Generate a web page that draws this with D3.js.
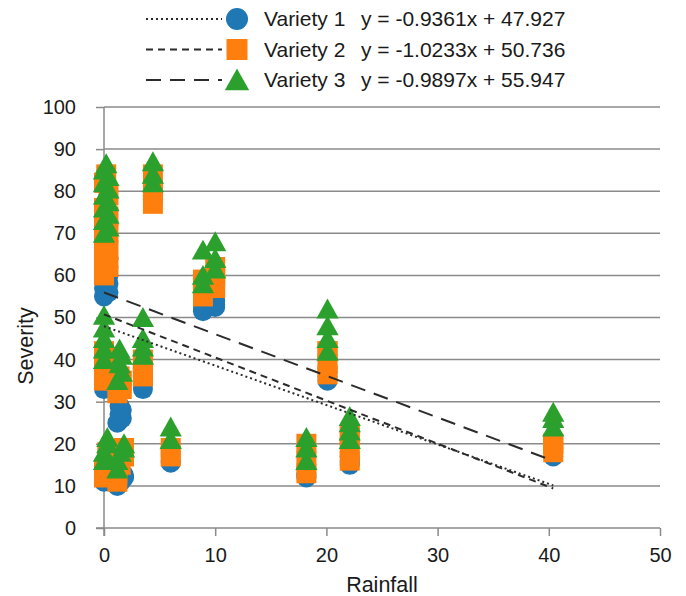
<!DOCTYPE html>
<html lang="en">
  <head>
    <meta charset="utf-8" />
    <title>Severity vs rainfall</title>
    <script src="https://cdnjs.cloudflare.com/ajax/libs/d3/7.8.5/d3.min.js"></script>
    <style type="text/css">
      body { margin: 0; background: #fff; }
      text { font-family: "Liberation Sans", Arial, sans-serif; fill: #1a1a1a; }
      .axis path, .axis line { stroke: #8a8a8a; stroke-width: 1.5; }
      .grid line { stroke: #8a8a8a; stroke-width: 1.5; }
      .trend { fill: none; stroke: #2b2b2b; stroke-width: 2; }
    </style>
  </head>

  <body>
    <script>
      const rainfall = [
        0, 0.4, 0, 0.4, 0, 0.4, 0, 0.4, 0, 0.4, 0, 0.2,
        0, 0, 0, 0, 0,
        0, 0, 0.3, 0.3, 1.2, 1.2, 1.5, 1.8, 1.8,
        1.2, 1.6, 1.4, 1.6, 1.4,
        3.5, 3.5, 3.5, 3.5,
        4.4, 4.4, 4.4,
        6, 6,
        8.9, 8.9, 8.9, 10, 10, 10,
        18.2, 18.2, 18.2,
        20.1, 20.1, 20.1, 20.1,
        22.1, 22.1, 22.1, 22.1,
        40.4, 40.4, 40.4
      ];
      const variety1 = [
        55, 56, 57, 58, 59, 60, 61, 62, 63, 64, 65, 66,
        33, 34, 35, 36, 37,
        11, 12, 13, 14, 10, 10.5, 11, 12, 12.5,
        25, 26, 27, 28, 29,
        33, 34, 35, 35,
        78, 79, 80,
        15.5, 16,
        51.5, 52, 53, 52.5, 53, 54,
        12, 12.5, 13,
        35, 36, 37, 38,
        15, 15.5, 16, 17,
        17, 19, 21
      ];
      const variety2 = [
        60, 62, 64, 66, 68, 70, 72, 74, 76, 79, 82, 84,
        35, 36.5, 38, 40, 42,
        12, 14, 16, 18, 11, 13, 15, 17, 19,
        32, 33, 34, 35, 36,
        36, 37, 38, 40,
        77, 80, 84,
        17, 19,
        55, 58, 59, 57, 60, 62,
        13, 16, 20,
        36.5, 39, 42, 42,
        16, 19, 22, 22,
        18, 20, 20
      ];
      const variety3 = [
        70, 71.5, 73, 74.5, 76, 77.5, 79, 80.5, 82, 83.5, 85, 86.5,
        40, 42.5, 45, 47.5, 50.5,
        16, 18, 20, 21.5, 14, 16, 18, 20, 19,
        35, 37, 39, 41, 42.5,
        41, 43, 45, 50,
        82, 84, 87,
        21, 24,
        58, 60, 66, 61.5, 64, 68,
        16, 19, 21.5,
        42, 45, 48, 52,
        21, 23, 25, 26.5,
        24, 26, 27.5
      ];
      const seriesNames = ["Variety 1", "Variety 2", "Variety 3"];
      const trendSlope = [-0.9361, -1.0233, -0.9897];
      const trendIntercept = [47.927, 50.736, 55.947];
      const trendLabels = ["y = -0.9361x + 47.927", "y = -1.0233x + 50.736", "y = -0.9897x + 55.947"];
      const xTicks = [0, 10, 20, 30, 40, 50];
      const yTicks = [0, 10, 20, 30, 40, 50, 60, 70, 80, 90, 100];

      const colors = ["#1f77b4", "#ff7f0e", "#2ca02c"];
      const dashes = ["2,3", "7,5", "15,9"];

      const width = 686;
      const height = 596;
      const marginTop = 107;
      const marginRight = 26;
      const marginBottom = 68;
      const marginLeft = 104;

      const x = d3.scaleLinear([0, 50], [marginLeft, width - marginRight]);
      const y = d3.scaleLinear([0, 100], [height - marginBottom, marginTop]);

      const svg = d3.select("body").append("svg")
        .attr("width", width)
        .attr("height", height)
        .attr("viewBox", [0, 0, width, height]);

      // horizontal grid
      svg.append("g")
        .attr("class", "grid")
        .selectAll("line")
        .data(yTicks.filter(d => d > 0))
        .join("line")
        .attr("x1", x(0))
        .attr("x2", x(50))
        .attr("y1", d => y(d))
        .attr("y2", d => y(d));

      // x axis
      svg.append("g")
        .attr("class", "axis")
        .attr("transform", `translate(0,${y(0)})`)
        .call(d3.axisBottom(x).tickValues(xTicks).tickSize(8).tickPadding(12).tickSizeOuter(0))
        .call(g => g.select(".domain").attr("d", `M${x(0) - 8},0H${x(50)}`))
        .call(g => g.selectAll("text").attr("font-size", 20).attr("fill", "#1a1a1a"));

      // y axis
      svg.append("g")
        .attr("class", "axis")
        .attr("transform", `translate(${x(0)},0)`)
        .call(d3.axisLeft(y).tickValues(yTicks).tickSize(8).tickPadding(20).tickSizeOuter(0))
        .call(g => g.select(".domain").attr("d", `M0,${y(100)}V${y(0) + 8}`))
        .call(g => g.selectAll("text").attr("font-size", 20).attr("fill", "#1a1a1a"));

      svg.append("text")
        .attr("x", (x(0) + x(50)) / 2)
        .attr("y", 592)
        .attr("text-anchor", "middle")
        .attr("font-size", 21.5)
        .text("Rainfall");

      svg.append("text")
        .attr("transform", "translate(33,346) rotate(-90)")
        .attr("text-anchor", "middle")
        .attr("font-size", 21.5)
        .text("Severity");

      // marker shapes
      const circle = d3.symbol(d3.symbolCircle, Math.PI * 100);
      const square = d3.symbol(d3.symbolSquare, 400);
      const triangle = s => `M0,${-s * 0.5}L${s * 0.53},${s * 0.45}L${-s * 0.53},${s * 0.45}Z`;
      const shapes = [() => circle(), () => square(), () => triangle(21)];
      const legendShapes = [
        () => d3.symbol(d3.symbolCircle, Math.PI * 121)(),
        () => d3.symbol(d3.symbolSquare, 441)(),
        () => triangle(23)
      ];

      const allSeries = [variety1, variety2, variety3];

      allSeries.forEach((values, i) => {
        svg.append("g")
          .selectAll("path")
          .data(values.map((v, j) => ({ rain: rainfall[j], sev: v })))
          .join("path")
          .attr("transform", d => `translate(${x(d.rain)},${y(d.sev)})`)
          .attr("d", shapes[i])
          .attr("fill", colors[i]);
      });

      // linear trend lines from the fitted equations
      const maxRain = d3.max(rainfall);
      trendSlope.forEach((m, i) => {
        svg.append("line")
          .attr("class", "trend")
          .attr("stroke-dasharray", dashes[i])
          .attr("x1", x(0))
          .attr("y1", y(trendIntercept[i]))
          .attr("x2", x(maxRain))
          .attr("y2", y(trendIntercept[i] + m * maxRain));
      });

      // legend
      const legend = svg.append("g");
      seriesNames.forEach((name, i) => {
        const row = legend.append("g").attr("transform", `translate(0,${19 + i * 30.5})`);
        row.append("line")
          .attr("class", "trend")
          .attr("stroke-dasharray", dashes[i])
          .attr("x1", 146).attr("x2", 222);
        row.append("path")
          .attr("transform", "translate(237,0)")
          .attr("d", legendShapes[i])
          .attr("fill", colors[i]);
        row.append("text")
          .attr("x", 264)
          .attr("dy", "0.35em")
          .attr("font-size", 21)
          .text(name);
        row.append("text")
          .attr("x", 361)
          .attr("dy", "0.35em")
          .attr("font-size", 21)
          .text(trendLabels[i]);
      });
    </script>
  </body>
</html>
